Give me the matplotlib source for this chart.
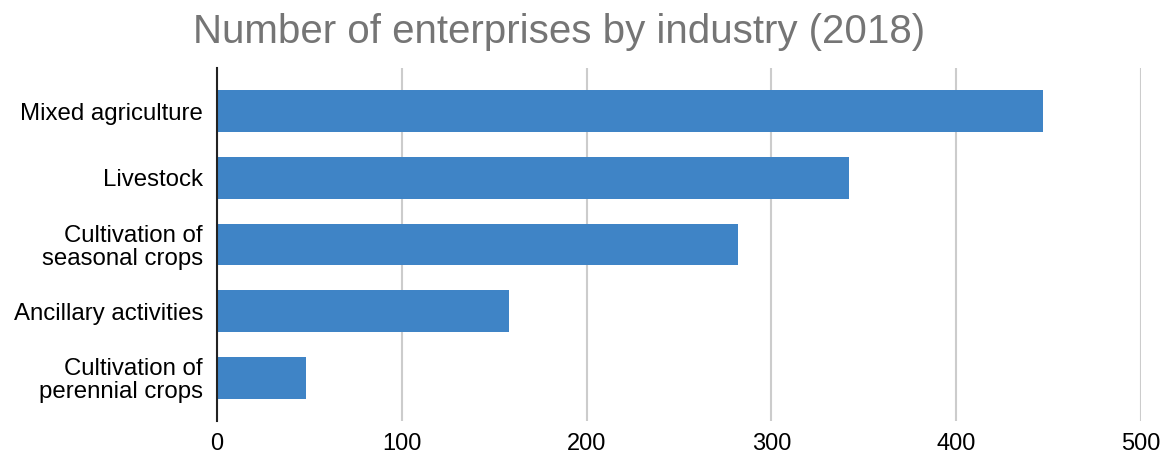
import matplotlib
matplotlib.use("Agg")
import matplotlib.pyplot as plt

categories = ["Mixed agriculture", "Livestock", "Cultivation of\nseasonal crops",
              "Ancillary activities", "Cultivation of\nperennial crops"]
values = [447, 342, 282, 158, 48]
xticks = [0, 100, 200, 300, 400, 500]

plt.rcParams['font.family'] = ['Liberation Sans', 'DejaVu Sans']

fig = plt.figure(figsize=(11.6, 4.55), dpi=100)
ax = fig.add_axes([217/1160, 34/455, 924/1160, 353/455])

pos = list(range(len(categories)))
ax.barh(pos, values, height=0.63, color="#3f84c6", zorder=3)

ax.set_xlim(0, 500)
ax.set_ylim(4.65, -0.65)
ax.set_xticks(xticks)
ax.set_xticklabels([str(t) for t in xticks], fontsize=17)
ax.set_yticks(pos)
ax.set_yticklabels(categories, fontsize=17.3, linespacing=1.03)
ax.tick_params(length=0)
ax.tick_params(axis='x', pad=9)
ax.tick_params(axis='y', pad=10)

ax.grid(axis='x', color="#cccccc", linewidth=1.5, zorder=0)
for s in ["top", "right", "bottom"]:
    ax.spines[s].set_visible(False)
ax.spines["left"].set_linewidth(1.5)
ax.spines["left"].set_color("#222222")
ax.spines["left"].set_zorder(4)

fig.text(559/1160, 1 - 32/455, "Number of enterprises by industry (2018)",
         fontsize=29, color="#757575", ha="center", va="center")

fig.savefig("out.png", dpi=100)
